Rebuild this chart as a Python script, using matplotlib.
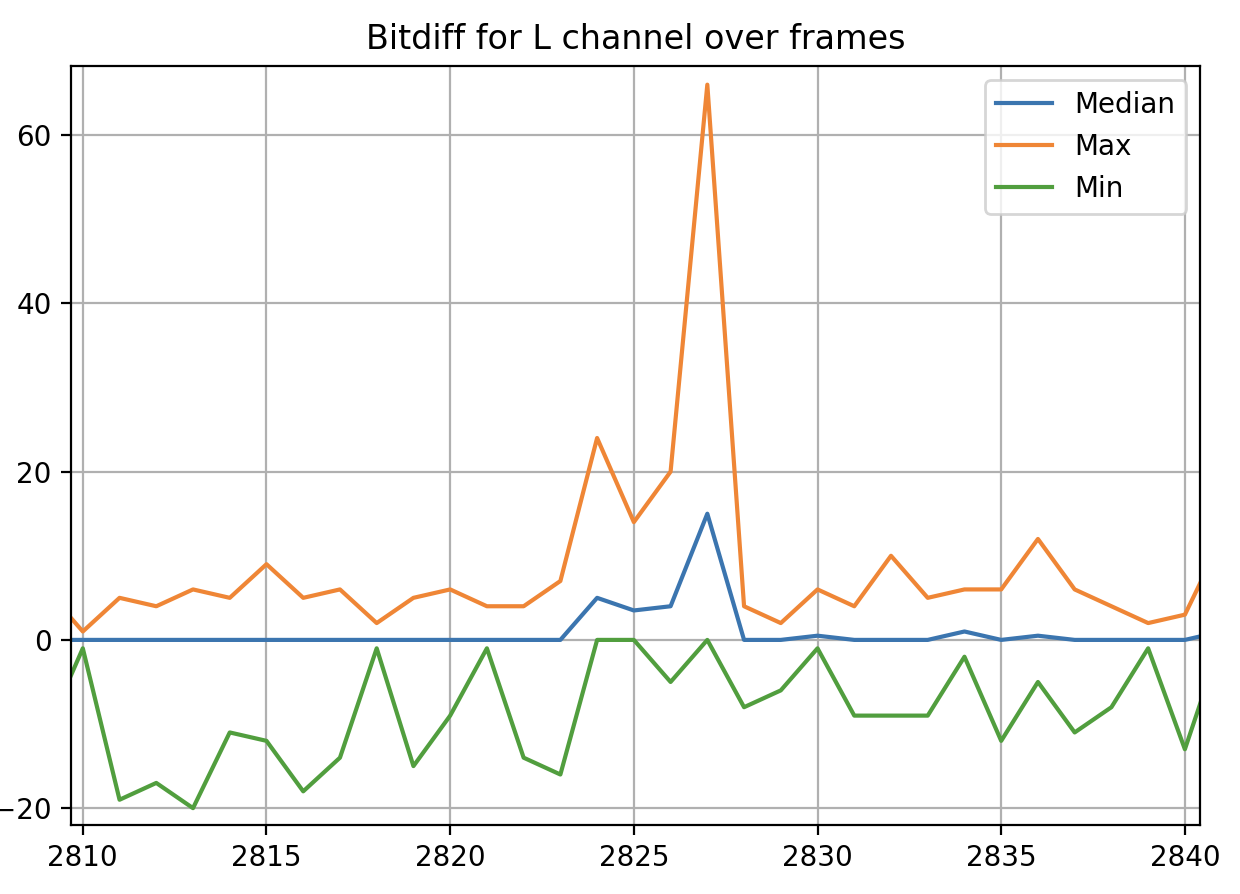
import matplotlib
matplotlib.use("Agg")
import matplotlib.pyplot as plt

frames = list(range(2809, 2842))
median = [0, 0, 0, 0, 0, 0, 0, 0, 0, 0, 0, 0, 0, 0, 0, 5, 3.5, 4, 15, 0, 0, 0.5, 0, 0, 0, 1, 0, 0.5, 0, 0, 0, 0, 1]
maxv = [6, 1, 5, 4, 6, 5, 9, 5, 6, 2, 5, 6, 4, 4, 7, 24, 14, 20, 66, 4, 2, 6, 4, 10, 5, 6, 6, 12, 6, 4, 2, 3, 12]
minv = [-11, -1, -19, -17, -20, -11, -12, -18, -14, -1, -15, -9, -1, -14, -16, 0, 0, -5, 0, -8, -6, -1, -9, -9, -9, -2, -12, -5, -11, -8, -1, -13, 0]

fig = plt.figure(figsize=(6.2, 4.47), dpi=200)
ax = fig.add_axes([0.0573, 0.0772, 0.9104, 0.8488])
ax.plot(frames, median, label="Median", color="#3b75af")
ax.plot(frames, maxv, label="Max", color="#ef8636")
ax.plot(frames, minv, label="Min", color="#519e3e")
ax.set_xlim(2809.68, 2840.41)
ax.set_ylim(-22.0, 68.2)
ax.set_title("Bitdiff for L channel over frames")
ax.grid(True)
ax.legend(loc="upper right")
fig.savefig("out.png", dpi=200)
